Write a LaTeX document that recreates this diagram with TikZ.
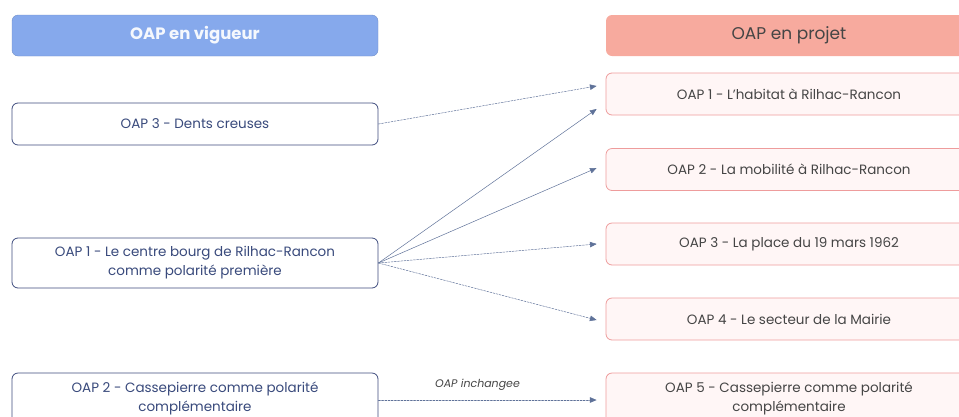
\documentclass[tikz,border=0pt]{standalone}
\usepackage{fontspec}
\setmainfont{Poppins}
\usetikzlibrary{arrows}
\definecolor{vigueur}{HTML}{86A9EC}
\definecolor{projet}{HTML}{F7AA9E}
\definecolor{navyline}{HTML}{3F4C7E}
\definecolor{navytext}{HTML}{394A7C}
\definecolor{pinkline}{HTML}{EE9C9C}
\definecolor{pinkfill}{HTML}{FFF6F6}
\definecolor{greytext}{HTML}{454545}
\definecolor{linkcol}{HTML}{5F7299}

\begin{document}
\begin{tikzpicture}[x=1pt, y=-1pt, line cap=round, line join=round,
  font=\fontsize{13.5}{19}\selectfont,
  headleft/.style={fill=vigueur, draw=vigueur!85!black, rounded corners=6pt, minimum width=366pt, minimum height=41pt, text=white!92!vigueur, font=\fontsize{16.5}{20}\selectfont\bfseries},
  headright/.style={fill=projet, draw=none, rounded corners=6pt, minimum width=366pt, minimum height=41pt, text=greytext, font=\fontsize{17}{20}\selectfont},
  oldbox/.style={draw=navyline, line width=0.8pt, fill=white, rounded corners=6pt, minimum width=366pt, minimum height=42pt, text=navytext, align=center},
  newbox/.style={draw=pinkline, line width=0.8pt, fill=pinkfill, rounded corners=6pt, minimum width=366pt, minimum height=42pt, text=greytext, align=center},
  link/.style={-triangle 45, linkcol, line width=0.5pt},
  dlink/.style={link, dash pattern=on 2pt off 1.2pt}]

\useasboundingbox (0,0) rectangle (959,416);

\def\xleft{195}
\def\xright{789}

% Left column

\node[headleft] (headold) at (\xleft,35.5) {OAP en vigueur};
\node[oldbox] (oldthree) at (\xleft,124) {OAP 3 - Dents creuses};
\node[oldbox, minimum height=50pt] (oldone) at (\xleft,263) {OAP 1 - Le centre bourg de Rilhac-Rancon\\comme polarité première};
\node[oldbox, minimum height=50pt] (oldtwo) at (\xleft,398) {OAP 2 - Cassepierre comme polarité\\complémentaire};

% Right column

\node[headright] (headnew) at (\xright,35.5) {OAP en projet};
\node[newbox] (newone) at (\xright,94) {OAP 1 - L'habitat à Rilhac-Rancon};
\node[newbox] (newtwo) at (\xright,169.5) {OAP 2 - La mobilité à Rilhac-Rancon};
\node[newbox] (newthree) at (\xright,244) {OAP 3 - La place du 19 mars 1962};
\node[newbox] (newfour) at (\xright,319) {OAP 4 - Le secteur de la Mairie};
\node[newbox, minimum height=50pt] (newfive) at (\xright,398) {OAP 5 - Cassepierre comme polarité\\complémentaire};

% Links

\draw[dlink] (oldthree.east) -- ([xshift=-9pt, yshift=8pt]newone.west);
\draw[link] (oldone.east) -- ([xshift=-9pt, yshift=-15pt]newone.west);
\draw[link] (oldone.east) -- ([xshift=-9pt, yshift=1.5pt]newtwo.west);
\draw[dlink] (oldone.east) -- ([xshift=-9pt]newthree.west);
\draw[dlink] (oldone.east) -- ([xshift=-9pt, yshift=-1pt]newfour.west);
\draw[dlink] ([yshift=-2pt]oldtwo.east) -- ([xshift=-9pt, yshift=-2pt]newfive.west) node[midway, above, xshift=-10pt, yshift=6pt, text=greytext, font=\fontsize{11}{13}\selectfont\itshape] {OAP inchangee};

\end{tikzpicture}
\end{document}
